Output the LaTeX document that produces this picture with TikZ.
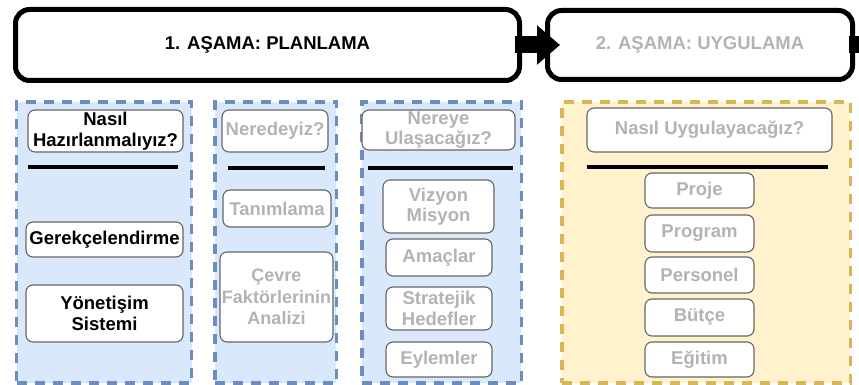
\documentclass[tikz,border=0pt]{standalone}
\usepackage{fontspec}
\setmainfont{Liberation Sans}
\usetikzlibrary{arrows.meta,calc}
\definecolor{bluefill}{HTML}{DAE8FC}
\definecolor{blueline}{HTML}{6C8EBF}
\definecolor{goldfill}{HTML}{FFF2CC}
\definecolor{goldline}{HTML}{D6B656}
\definecolor{softtext}{HTML}{B3B3B3}
\definecolor{itemline}{HTML}{666666}
\begin{document}
\begin{tikzpicture}[x=1pt,y=-1pt,
  txt/.style={font=\bfseries\fontsize{18.5}{20.5}\selectfont},
  stage/.style={txt, draw=black, line width=5pt, rounded corners=14pt, fill=white, inner sep=0pt},
  panel/.style={draw=#1line, fill=#1fill, line width=3.5pt, dash pattern=on 10pt off 8pt, inner sep=0pt},
  item/.style={txt, draw=itemline, fill=white, line width=1.1pt, rounded corners=7pt,
               align=center, inner sep=1pt},
  dim/.style={text=softtext},
  rule/.style={line width=4pt, draw=black},
  sz/.style 2 args={minimum width=#1pt, minimum height=#2pt}]
\useasboundingbox (0,0) rectangle (859,385);

% stage headers
\node[stage, sz={504}{71}] (S1) at (267.5,45) {1. AŞAMA: PLANLAMA};
\node[stage, sz={305}{69}, dim] (S2) at (700,45) {2. AŞAMA: UYGULAMA};

% block arrow between the stages and the outgoing stub
\draw[line width=17pt, -{Triangle[length=23pt, width=38pt]}]
  ($(S1.east)+(-7,0)$) -- ($(S2.west)+(15,0)$);
\coordinate (exit) at ($(S2.east)+(8,0)$);
\draw[line width=17pt] ($(S2.east)+(-6,0)$) -- (exit);

% dashed columns
\node[panel=blue, sz={175}{281}] (P1) at (104,242.5) {};
\node[panel=blue, sz={121.5}{281}] (P2) at (275.5,242.5) {};
\node[panel=blue, sz={159.5}{281}] (P3) at (441.5,242.5) {};
\node[panel=gold, sz={288.5}{281}] (P4) at (706,242.5) {};

% column 1
\node[item, sz={155}{42}] (a1) at (105.5,131) {Nasıl\\Hazırlanmalıyız?};
\draw[rule] (28,167) -- (178,167);
\node[item, sz={157}{35}] (a2) at (104.5,239.5) {Gerekçelendirme};
\node[item, sz={157}{57}] (a3) at (104.5,313.5) {Yönetişim\\Sistemi};

% column 2
\node[item, dim, sz={106}{42}] (b1) at (275,131) {Neredeyiz?};
\draw[rule] (228,168) -- (325,168);
\node[item, dim, sz={108}{37}] (b2) at (277,208.5) {Tanımlama};
\node[item, dim, sz={113}{90}, inner sep=0pt, font=\bfseries\fontsize{18}{21.5}\selectfont] (b3) at (276.5,297) {Çevre\\Faktörlerinin\\Analizi};

% column 3
\node[item, dim, sz={153}{40}] (c1) at (438.5,130) {Nereye\\Ulaşacağız?};
\draw[rule] (368,168) -- (513,168);
\node[item, dim, sz={111}{53}] (c2) at (438.5,206.5) {Vizyon\\Misyon};
\node[item, dim, sz={106}{37}] (c3) at (439,257.5) {Amaçlar};
\node[item, dim, sz={106}{43}] (c4) at (439,308.5) {Stratejik\\Hedefler};
\node[item, dim, sz={106}{35}] (c5) at (439,359.5) {Eylemler};

% column 4
\node[item, dim, sz={245}{44}] (d1) at (709.5,130) {Nasıl Uygulayacağız?};
\draw[rule] (587,167) -- (828,167);
\node[item, dim, sz={109}{35}] (d2) at (699.5,190.5) {Proje};
\node[item, dim, sz={109}{37}] (d3) at (699.5,233.5) {Program};
\node[item, dim, sz={109}{36}] (d4) at (699.5,275) {Personel};
\node[item, dim, sz={109}{37}] (d5) at (699.5,317.5) {Bütçe};
\node[item, dim, sz={109}{35}] (d6) at (699.5,359.5) {Eğitim};
\end{tikzpicture}
\end{document}
